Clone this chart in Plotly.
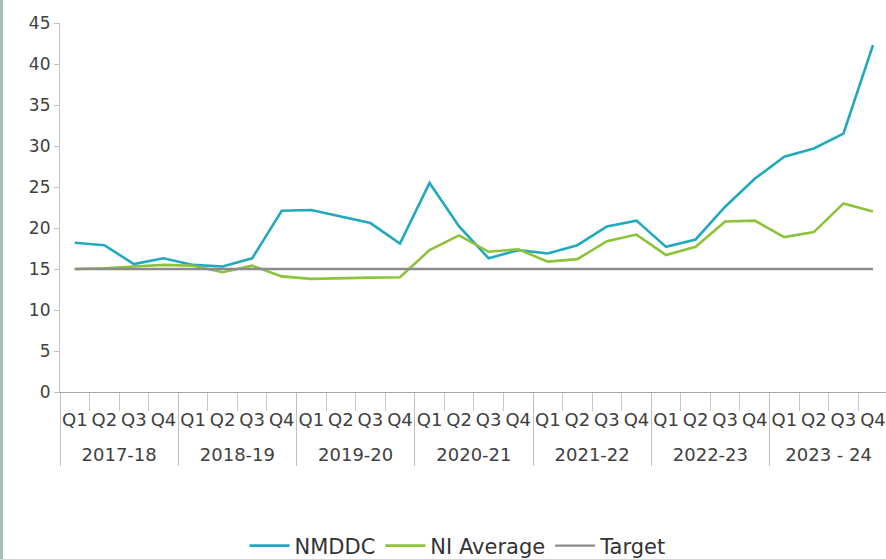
import plotly.graph_objects as go

# Financial years and quarters (two-level category axis)
years = ["2017-18", "2018-19", "2019-20", "2020-21", "2021-22", "2022-23", "2023 - 24"]
quarters = ["Q1", "Q2", "Q3", "Q4"]

nmddc = [18.2, 17.9, 15.6, 16.3,
         15.5, 15.3, 16.3, 22.1,
         22.2, 21.4, 20.6, 18.1,
         25.5, 20.2, 16.3, 17.3,
         16.9, 17.9, 20.2, 20.9,
         17.7, 18.6, 22.6, 26.0,
         28.7, 29.7, 31.5, 42.3]

ni_average = [15.0, 15.1, 15.3, 15.5,
              15.4, 14.6, 15.4, 14.1,
              13.8, 13.9, 13.95, 14.0,
              17.3, 19.1, 17.1, 17.4,
              15.9, 16.2, 18.4, 19.2,
              16.7, 17.7, 20.8, 20.9,
              18.9, 19.5, 23.0, 22.0]

target = [15] * 28

# outer level gets a leading line break so the year row sits lower
x_outer = ["<br>" + y for y in years for _ in quarters]
x_inner = [q for _ in years for q in quarters]
x = [x_outer, x_inner]

fig = go.Figure()
fig.add_trace(go.Scatter(x=x, y=nmddc, mode="lines", name="NMDDC",
                         line=dict(color="#22A9BE", width=2.6)))
fig.add_trace(go.Scatter(x=x, y=ni_average, mode="lines", name="NI Average",
                         line=dict(color="#8CC33A", width=2.6)))
fig.add_trace(go.Scatter(x=x, y=target, mode="lines", name="Target",
                         line=dict(color="#8C8C8C", width=2.4)))

W, H = 886, 559
ml, mr, mt, mb = 60, 0, 23, 167
pw = W - ml - mr
ph = H - mt - mb

fig.update_layout(
    width=W, height=H,
    margin=dict(l=ml, r=mr, t=mt, b=mb, autoexpand=False),
    paper_bgcolor="white", plot_bgcolor="white",
    font=dict(family="DejaVu Sans", color="#404040", size=16),
    showlegend=True,
    legend=dict(orientation="h", x=(458 - ml) / pw, xanchor="center",
                y=-154 / ph, yanchor="middle",
                font=dict(size=21, color="#333333"), itemwidth=40,
                tracegroupgap=0),
    shapes=[dict(type="rect", xref="paper", yref="paper",
                 x0=-ml / pw, x1=-(ml - 3) / pw, y0=-mb / ph, y1=1 + mt / ph,
                 fillcolor="#A9BDBE", line=dict(width=0), layer="above")],
)

fig.update_xaxes(
    type="multicategory",
    range=[-0.5, 27.44],
    automargin=False,
    tickangle=0,
    ticklabelstandoff=11,
    showline=True, linecolor="#A6A6A6", linewidth=1.2,
    ticks="outside", ticklen=18, tickcolor="#C8C8C8",
    showdividers=True, dividercolor="#BFBFBF", dividerwidth=1.2,
    showgrid=False, zeroline=False,
    tickfont=dict(size=18, color="#404040"),
)
fig.update_yaxes(
    range=[0, 45], dtick=5,
    automargin=False,
    showline=True, linecolor="#BFBFBF", linewidth=1.2,
    ticks="outside", ticklen=5, tickcolor="#BFBFBF",
    showgrid=False, zeroline=False,
    tickfont=dict(size=17, color="#404040"),
)

fig.write_html("out.html")
